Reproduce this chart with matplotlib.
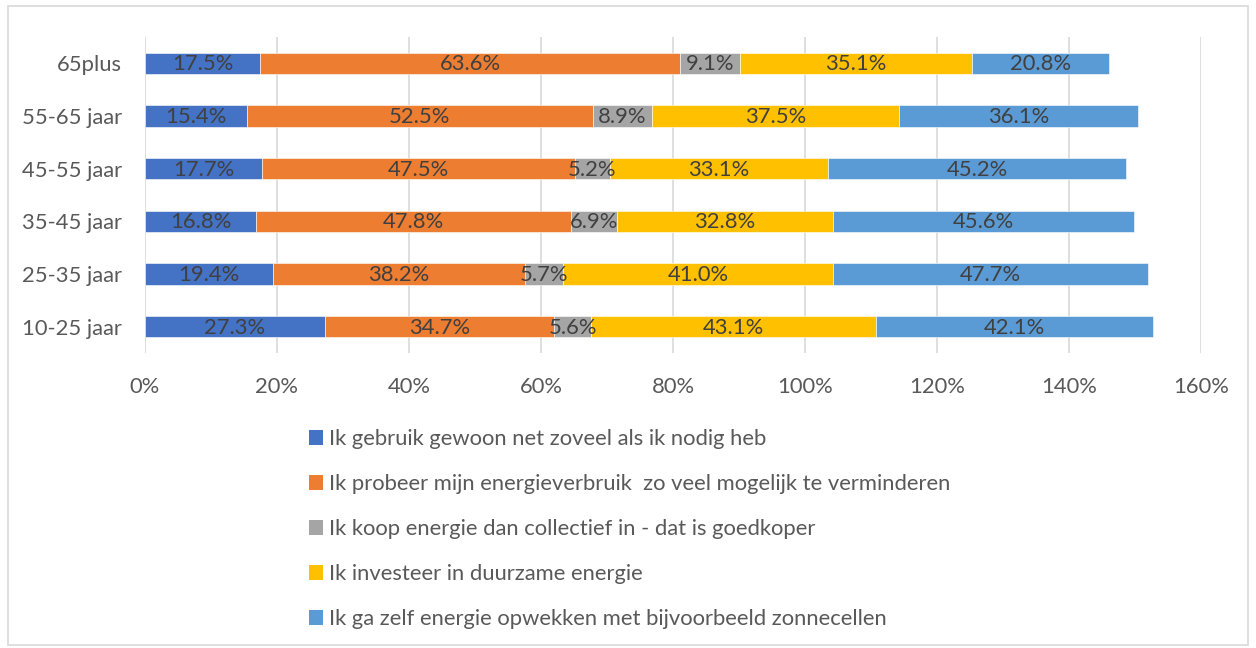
import matplotlib.pyplot as plt
from matplotlib.patches import Patch, Rectangle
import numpy as np

plt.rcParams['font.family'] = ['Lato', 'DejaVu Sans']

groups = ['10-25 jaar', '25-35 jaar', '35-45 jaar', '45-55 jaar', '55-65 jaar', '65plus']
series_names = [
    'Ik gebruik gewoon net zoveel als ik nodig heb',
    'Ik probeer mijn energieverbruik  zo veel mogelijk te verminderen',
    'Ik koop energie dan collectief in - dat is goedkoper',
    'Ik investeer in duurzame energie',
    'Ik ga zelf energie opwekken met bijvoorbeeld zonnecellen',
]
gebruik = [27.3, 19.4, 16.8, 17.7, 15.4, 17.5]
verminderen = [34.7, 38.2, 47.8, 47.5, 52.5, 63.6]
collectief = [5.6, 5.7, 6.9, 5.2, 8.9, 9.1]
investeer = [43.1, 41.0, 32.8, 33.1, 37.5, 35.1]
opwekken = [42.1, 47.7, 45.6, 45.2, 36.1, 20.8]
colors = ['#4472C4', '#ED7D31', '#A5A5A5', '#FFC000', '#5B9BD5']

FS = 15.8

fig = plt.figure(figsize=(12.56, 6.48), dpi=100)
fig.patches.append(Rectangle((0.006, 0.004), 0.988, 0.986, transform=fig.transFigure,
                             fill=False, edgecolor='#D9D9D9', linewidth=1.2))
ax = fig.add_axes([0.1154, 0.4552, 0.9562 - 0.1154, 0.9429 - 0.4552])

y = np.arange(len(groups))
left = np.zeros(len(groups))
for vals, col in zip([gebruik, verminderen, collectief, investeer, opwekken], colors):
    vals = np.array(vals)
    ax.barh(y, vals, left=left, height=0.4, color=col, edgecolor='white', linewidth=0.4, zorder=3)
    for yi, l, v in zip(y, left, vals):
        ax.text(l + v / 2, yi - 0.02, f'{v:.1f}%', ha='center', va='center',
                fontsize=FS, color='#404040', zorder=4)
    left += vals

ax.set_xlim(0, 160)
ax.set_ylim(-0.5, 5.5)
ax.set_xticks(np.arange(0, 161, 20))
ax.set_xticklabels([f'{t}%' for t in range(0, 161, 20)])
ax.set_yticks(y)
ax.set_yticklabels(groups)
ax.tick_params(axis='both', length=0, labelsize=FS, labelcolor='#595959')
ax.tick_params(axis='x', pad=17)
ax.tick_params(axis='y', pad=16.5)
ax.grid(axis='x', color='#D9D9D9', linewidth=1.2, zorder=0)
for s in ax.spines.values():
    s.set_visible(False)

handles = [Patch(facecolor=c, edgecolor='none') for c in colors]
fig.legend(handles, series_names, loc='upper left', bbox_to_anchor=(0.230, 0.368),
           frameon=False, fontsize=FS, labelcolor='#595959',
           handlelength=0.65, handleheight=0.65, handletextpad=0.3, labelspacing=1.14)

fig.savefig('out.png', dpi=100)
